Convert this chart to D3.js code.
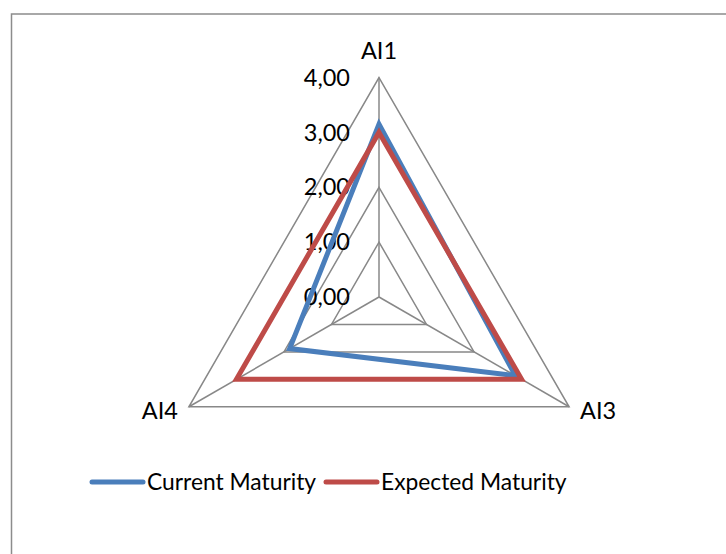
<!DOCTYPE html>
<html>
<head>
<meta charset="utf-8">
<script src="https://cdn.jsdelivr.net/npm/d3@7"></script>
<style>
  html, body { margin: 0; padding: 0; background: #ffffff; }
  svg { display: block; }
  text { font-family: Lato, "Open Sans", sans-serif; fill: #000000; }
</style>
</head>
<body>
<svg id="chart" width="726" height="554"></svg>
<script>
// Maturity levels per process
const categories = ["AI1", "AI3", "AI4"];
const currentMaturity = [3.15, 2.87, 1.88];
const expectedMaturity = [3.0, 3.0, 3.0];
const tickValues = [0, 1, 2, 3, 4];
const seriesNames = ["Current Maturity", "Expected Maturity"];
const seriesColors = ["#4a7ebb", "#be4b48"];

const svg = d3.select("#chart");
const width = 726, height = 554;

// Chart frame (runs past the right and bottom edges)
svg.append("rect")
  .attr("x", 11.5).attr("y", 14)
  .attr("width", width).attr("height", height)
  .attr("fill", "#ffffff")
  .attr("stroke", "#8c8c8c").attr("stroke-width", 1.5);

const cx = 379, cy = 297, R = 219.5;
const r = d3.scaleLinear().domain([0, 4]).range([0, R]);
const angle = d3.scalePoint().domain(categories).range([0, 2 * Math.PI * (categories.length - 1) / categories.length]);

const g = svg.append("g").attr("transform", `translate(${cx},${cy})`);
const gridColor = "#888888";

const ringLine = d3.lineRadial()
  .angle(d => angle(d.c))
  .radius(d => r(d.v))
  .curve(d3.curveLinearClosed);

// Gridlines (one triangle per tick)
g.selectAll(".ring")
  .data(tickValues.filter(t => t > 0))
  .join("path")
  .attr("class", "ring")
  .attr("d", t => ringLine(categories.map(c => ({ c, v: t }))))
  .attr("fill", "none")
  .attr("stroke", gridColor)
  .attr("stroke-width", 1.5);

// Spokes
g.selectAll(".spoke")
  .data(categories)
  .join("line")
  .attr("class", "spoke")
  .attr("x1", 0).attr("y1", 0)
  .attr("x2", c => r(4) * Math.sin(angle(c)))
  .attr("y2", c => -r(4) * Math.cos(angle(c)))
  .attr("stroke", gridColor)
  .attr("stroke-width", 1.5);

// Value axis labels
const fmt = v => d3.format(".2f")(v).replace(".", ",");
g.selectAll(".tick")
  .data(tickValues)
  .join("text")
  .attr("class", "tick")
  .attr("x", -29)
  .attr("y", t => -r(t))
  .attr("dy", "0.35em")
  .attr("text-anchor", "end")
  .attr("font-size", 23.5)
  .text(fmt);

// Category labels
g.selectAll(".cat")
  .data(categories)
  .join("text")
  .attr("class", "cat")
  .attr("x", c => {
    const a = angle(c);
    const s = Math.sin(a);
    return r(4) * s + (Math.abs(s) < 1e-6 ? 0 : (s > 0 ? 11 : -11));
  })
  .attr("y", c => {
    const a = angle(c);
    const y = -r(4) * Math.cos(a);
    return Math.abs(Math.sin(a)) < 1e-6 ? y - 27 : y + 4;
  })
  .attr("dy", "0.35em")
  .attr("text-anchor", c => {
    const s = Math.sin(angle(c));
    return Math.abs(s) < 1e-6 ? "middle" : (s > 0 ? "start" : "end");
  })
  .attr("font-size", 23.5)
  .text(c => c);

// Series polygons
const series = [currentMaturity, expectedMaturity];
g.selectAll(".series")
  .data(series)
  .join("path")
  .attr("class", "series")
  .attr("d", vals => ringLine(categories.map((c, i) => ({ c, v: vals[i] }))))
  .attr("fill", "none")
  .attr("stroke", (d, i) => seriesColors[i])
  .attr("stroke-width", 5)
  .attr("stroke-linejoin", "miter");

// Legend
const legendItems = [
  { name: seriesNames[0], color: seriesColors[0], x: 92 },
  { name: seriesNames[1], color: seriesColors[1], x: 326 }
];
const lg = svg.selectAll(".legend")
  .data(legendItems)
  .join("g")
  .attr("class", "legend")
  .attr("transform", d => `translate(${d.x},482)`);
lg.append("line")
  .attr("x1", 0).attr("x2", 51)
  .attr("y1", 0).attr("y2", 0)
  .attr("stroke", d => d.color)
  .attr("stroke-width", 5)
  .attr("stroke-linecap", "round");
lg.append("text")
  .attr("x", 55)
  .attr("y", 0)
  .attr("dy", "0.35em")
  .attr("font-size", 22.8)
  .text(d => d.name);
</script>
</body>
</html>
